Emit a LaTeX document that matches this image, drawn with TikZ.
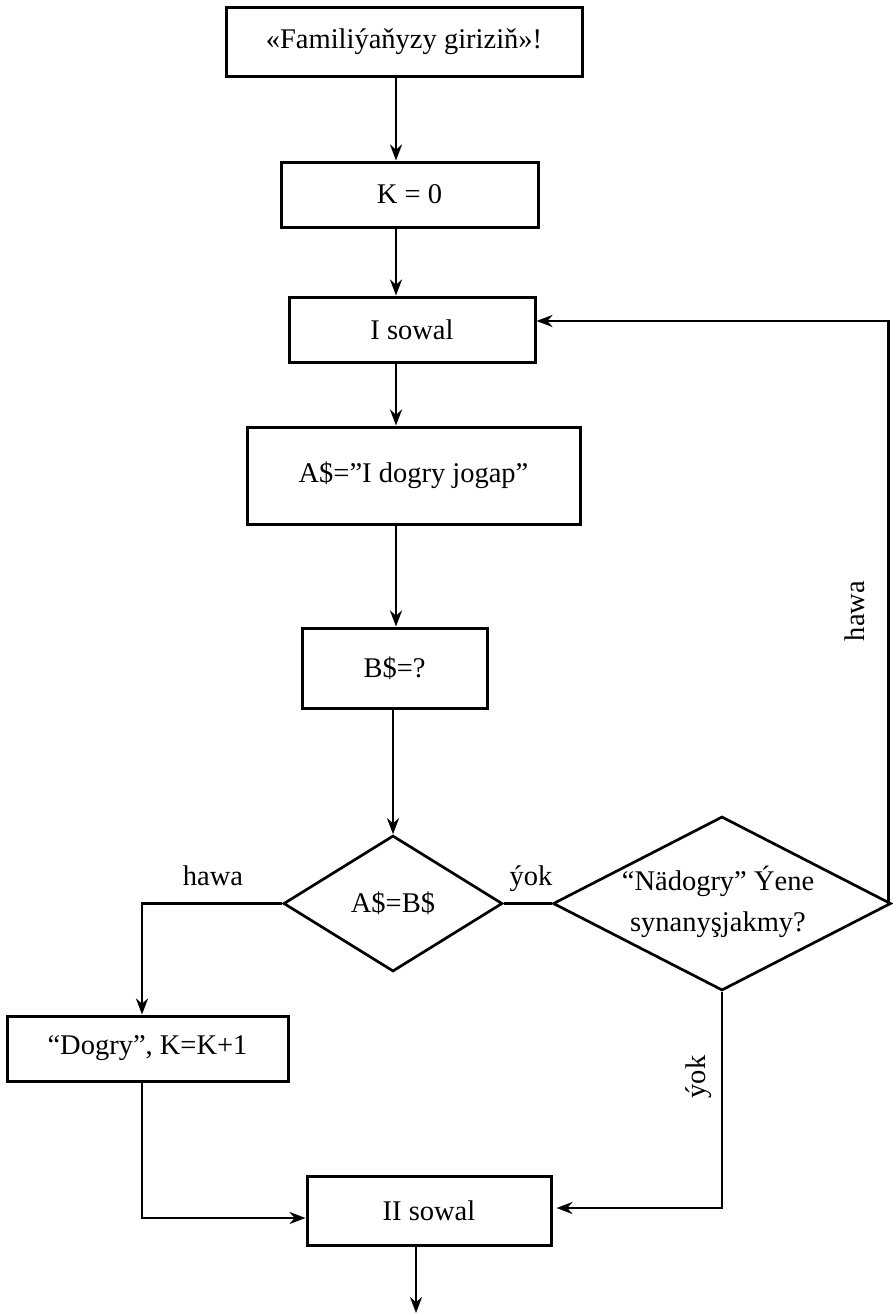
\documentclass[tikz,border=0pt]{standalone}
\usepackage{fontspec}
\setmainfont{Liberation Serif}
\usetikzlibrary{arrows.meta,shapes.geometric}
\begin{document}
\begin{tikzpicture}[x=1pt,y=-1pt,
  line width=2.7pt,
  font=\fontsize{28.5}{41}\selectfont,
  box/.style={draw, rectangle, inner sep=0pt, line width=3pt},
  dia/.style={draw, diamond, inner sep=0pt},
  arr/.style={-{Stealth[length=16pt,width=12pt]}},
  lbl/.style={inner sep=0pt, align=center}]
\useasboundingbox (0,0) rectangle (893,1315);

% process boxes
\node[box, minimum width=356pt, minimum height=69pt] (b1) at (404,41.5) {«Familiýaňyzy giriziň»!};
\node[box, minimum width=257pt, minimum height=65pt] (b2) at (409.5,194.5) {K = 0};
\node[box, minimum width=246pt, minimum height=65pt] (b3) at (412,329.5) {I sowal};
\node[box, minimum width=333pt, minimum height=97pt] (b4) at (413.5,475.5) {A\$=”I dogry jogap”};
\node[box, minimum width=185pt, minimum height=80pt] (b5) at (394.5,668) {B\$=?};
\node[box, minimum width=281pt, minimum height=65pt] (dg) at (147.5,1048.5) {“Dogry”, K=K+1};
\node[box, minimum width=244pt, minimum height=69pt] (s2) at (429,1210.5) {II sowal};

% decisions
\node[dia, minimum width=219pt, minimum height=136pt] (d1) at (393,903.5) {};
\node[lbl] (d1t) at (d1.center) {A\$=B\$};
\node[dia, minimum width=338pt, minimum height=174pt] (d2) at (722,903.5) {};
\node[lbl] (d2t) at ([xshift=-4pt,yshift=2pt]d2.center) {“Nädogry” Ýene\\synanyşjakmy?};

% auxiliary points
\coordinate (spine) at (396,0);
\coordinate (dgx) at (142,0);
\coordinate (endp) at (416,1313);

% main flow
\draw[arr] (b1.south -| spine) -- (b2.north -| spine);
\draw[arr] (b2.south -| spine) -- (b3.north -| spine);
\draw[arr] (b3.south -| spine) -- (b4.north -| spine);
\draw[arr] (b4.south -| spine) -- (b5.north -| spine);
\draw[arr] (b5.south -| d1.north) -- (d1.north);

% branches of the first decision
\draw[arr] (d1.west) -| (dg.north -| dgx);
\draw (d1.east) -- (d2.west);
\node[lbl] (hw1) at (213,876) {hawa};
\node[lbl] (yk1) at (531,879) {ýok};

% branches of the second decision
\draw[arr] ([xshift=-4pt,yshift=2pt]d2.east) |- ([yshift=8.5pt]b3.east);
\node[lbl, rotate=90] (hw2) at (855,611) {hawa};
\draw[arr] (d2.south) |- ([yshift=2.5pt,xshift=4pt]s2.east);
\node[lbl, rotate=90] (yk2) at (699,1077) {ýok};

% joining into the second question
\draw[arr] (dg.south -| dgx) |- ([yshift=-7.5pt]s2.west);
\draw[arr] (s2.south -| endp) -- (endp);
\end{tikzpicture}
\end{document}
